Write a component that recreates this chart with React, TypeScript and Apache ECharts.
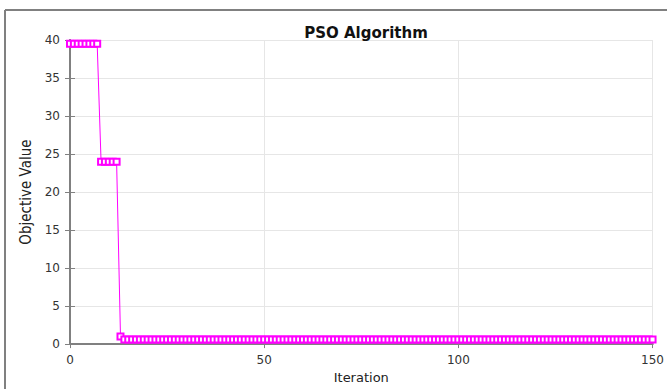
import React, { useEffect, useRef } from "react";
import * as echarts from "echarts";

const title = "PSO Algorithm";
const xName = "Iteration";
const yName = "Objective Value";
const xTicks = [0, 50, 100, 150];
const yTicks = [0, 5, 10, 15, 20, 25, 30, 35, 40];

// objective value per iteration 0..150
const objective: number[] = [
  39.5, 39.5, 39.5, 39.5, 39.5, 39.5, 39.5, 39.5,
  24, 24, 24, 24, 24,
  1,
  0.6, 0.6, 0.6, 0.6, 0.6, 0.6, 0.6, 0.6, 0.6, 0.6,
  0.6, 0.6, 0.6, 0.6, 0.6, 0.6, 0.6, 0.6, 0.6, 0.6,
  0.6, 0.6, 0.6, 0.6, 0.6, 0.6, 0.6, 0.6, 0.6, 0.6,
  0.6, 0.6, 0.6, 0.6, 0.6, 0.6, 0.6, 0.6, 0.6, 0.6,
  0.6, 0.6, 0.6, 0.6, 0.6, 0.6, 0.6, 0.6, 0.6, 0.6,
  0.6, 0.6, 0.6, 0.6, 0.6, 0.6, 0.6, 0.6, 0.6, 0.6,
  0.6, 0.6, 0.6, 0.6, 0.6, 0.6, 0.6, 0.6, 0.6, 0.6,
  0.6, 0.6, 0.6, 0.6, 0.6, 0.6, 0.6, 0.6, 0.6, 0.6,
  0.6, 0.6, 0.6, 0.6, 0.6, 0.6, 0.6, 0.6, 0.6, 0.6,
  0.6, 0.6, 0.6, 0.6, 0.6, 0.6, 0.6, 0.6, 0.6, 0.6,
  0.6, 0.6, 0.6, 0.6, 0.6, 0.6, 0.6, 0.6, 0.6, 0.6,
  0.6, 0.6, 0.6, 0.6, 0.6, 0.6, 0.6, 0.6, 0.6, 0.6,
  0.6, 0.6, 0.6, 0.6, 0.6, 0.6, 0.6, 0.6, 0.6, 0.6,
  0.6, 0.6, 0.6, 0.6, 0.6, 0.6, 0.6,
];

export default function App() {
  const ref = useRef<HTMLDivElement>(null);
  useEffect(() => {
    if (!ref.current) return;
    const chart = echarts.init(ref.current, null, { renderer: "svg" });
    const axisLine = { show: true, lineStyle: { color: "#808080", width: 2 } };
    const labelStyle = { fontFamily: "DejaVu Sans", fontSize: 12, color: "#333333" };
    const xMin = xTicks[0];
    const xMax = xTicks[xTicks.length - 1];
    const xInt = xTicks[1] - xTicks[0];
    const yMin = yTicks[0];
    const yMax = yTicks[yTicks.length - 1];
    const yInt = yTicks[1] - yTicks[0];
    chart.setOption({
      animation: false,
      backgroundColor: "#ffffff",
      title: {
        text: title,
        left: 361,
        textAlign: "center",
        top: 20,
        textStyle: { fontFamily: "DejaVu Sans", fontWeight: "bold", fontSize: 15, color: "#111111" },
      },
      graphic: [
        { type: "line", shape: { x1: 5, y1: 10, x2: 667, y2: 10 }, style: { stroke: "#808080", lineWidth: 2 } },
        { type: "line", shape: { x1: 5, y1: 10, x2: 5, y2: 389 }, style: { stroke: "#808080", lineWidth: 2 } },
      ],
      grid: { left: 70, top: 40, right: 14, bottom: 42 },
      xAxis: [
        {
          type: "value", position: "bottom", min: xMin, max: xMax, interval: xInt,
          axisLine, axisTick: { show: true, inside: true, length: 4, lineStyle: { color: "#808080" } },
          splitLine: { show: true, lineStyle: { color: "#e6e6e6", width: 1 } },
          axisLabel: { ...labelStyle, margin: 10 },
          name: xName, nameLocation: "middle", nameGap: 25,
          nameTextStyle: { fontFamily: "DejaVu Sans", fontSize: 13, color: "#222222" },
        },
        {
          type: "value", position: "top", min: xMin, max: xMax, interval: xInt,
          axisLine, axisTick: { show: true, inside: true, length: 4, lineStyle: { color: "#808080" } },
          splitLine: { show: false }, axisLabel: { show: false },
        },
      ],
      yAxis: [
        {
          type: "value", position: "left", min: yMin, max: yMax, interval: yInt,
          axisLine, axisTick: { show: true, inside: true, length: 5, lineStyle: { color: "#808080" } },
          splitLine: { show: true, lineStyle: { color: "#e6e6e6", width: 1 } },
          axisLabel: { ...labelStyle, margin: 10 },
          name: yName, nameLocation: "middle", nameGap: 36,
          nameTextStyle: { fontFamily: "Liberation Sans Narrow, Arial Narrow, DejaVu Sans Condensed, sans-serif", fontSize: 15, color: "#222222" },
        },
        {
          type: "value", position: "right", min: yMin, max: yMax, interval: yInt,
          axisLine, axisTick: { show: true, inside: true, length: 5, lineStyle: { color: "#808080" } },
          splitLine: { show: false }, axisLabel: { show: false },
        },
      ],
      series: [
        {
          type: "line",
          xAxisIndex: 0,
          yAxisIndex: 0,
          data: objective.map((v, i) => [i, v]),
          symbol: "emptyRect",
          symbolSize: 6,
          itemStyle: { color: "#ff00ff", borderColor: "#ff00ff", borderWidth: 1 },
          lineStyle: { color: "#ff00ff", width: 1 },
        },
      ],
    });
    return () => chart.dispose();
  }, []);
  return <div ref={ref} style={{ position: "fixed", left: 0, top: 0, width: 667, height: 389 }} />;
}
